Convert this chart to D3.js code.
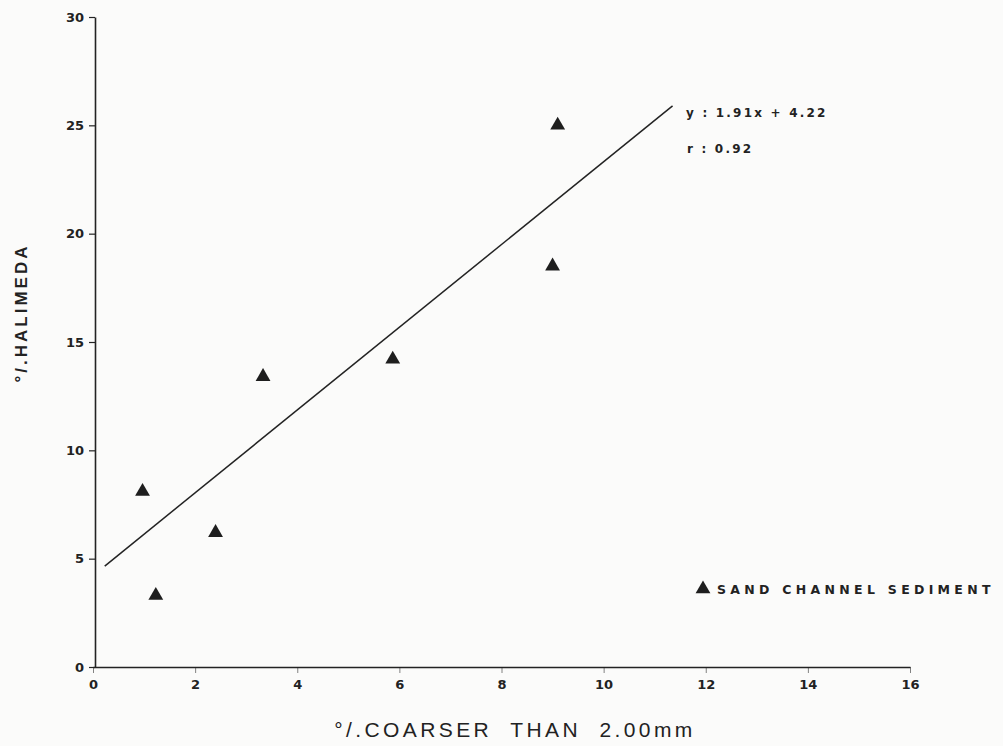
<!DOCTYPE html>
<html>
<head>
<meta charset="utf-8">
<script src="https://cdn.jsdelivr.net/npm/d3@7/dist/d3.min.js"></script>
<style>
  html, body { margin: 0; padding: 0; background: #fbfbfa; }
  svg { display: block; }
  text { fill: #222; }
</style>
</head>
<body>
<svg id="chart" width="1003" height="746"></svg>
<script>
// Sand channel sediment samples: coarse fraction vs. Halimeda content
const coarserPct  = [0.97, 1.23, 2.4, 3.33, 5.87, 9.0, 9.1];
const halimedaPct = [8.1, 3.3, 6.2, 13.4, 14.2, 18.5, 25.0];

const xTicks = [0, 2, 4, 6, 8, 10, 12, 14, 16];
const yTicks = [0, 5, 10, 15, 20, 25, 30];

// Least-squares fit reported on the chart
const slope = 1.91, intercept = 4.22, rValue = 0.92;
const fitRange = [0.23, 11.35];

const svg = d3.select("#chart");
const ink = "#232323";

const x = d3.scaleLinear().domain([0, 16]).range([93, 910]);
const y = d3.scaleLinear().domain([0, 30]).range([667, 17]);

// Axes
const xAxis = d3.axisBottom(x).tickValues(xTicks).tickSize(6).tickSizeOuter(0).tickPadding(7);
const yAxis = d3.axisLeft(y).tickValues(yTicks).tickSize(6).tickSizeOuter(0).tickPadding(5);

const gx = svg.append("g").attr("transform", `translate(0,${y(0)})`).call(xAxis);
const gy = svg.append("g").attr("transform", `translate(${x(0) + 2},0)`).call(yAxis);

[gx, gy].forEach(g => {
  g.select(".domain").attr("stroke", ink).attr("stroke-width", 1.6);
  g.selectAll(".tick line").attr("stroke", ink).attr("stroke-width", 1.2);
  g.selectAll(".tick text")
    .attr("fill", ink)
    .style("font-family", "'DejaVu Sans', sans-serif")
    .style("font-size", "13px")
    .style("font-weight", "600");
});
gx.selectAll(".tick line").attr("stroke-width", 0.8).attr("opacity", 0.7);

// Regression line
svg.append("line")
  .attr("x1", x(fitRange[0])).attr("y1", y(slope * fitRange[0] + intercept))
  .attr("x2", x(fitRange[1])).attr("y2", y(slope * fitRange[1] + intercept))
  .attr("stroke", ink).attr("stroke-width", 1.5);

// Data points
const tri = d3.symbol().type(d3.symbolTriangle).size(95);
svg.append("g").selectAll("path")
  .data(coarserPct.map((v, i) => [v, halimedaPct[i]]))
  .join("path")
  .attr("d", tri)
  .attr("transform", d => `translate(${x(d[0])},${y(d[1])})`)
  .attr("fill", "#1e1e1e");

// Fit equation annotation
const eqFont = "'DejaVu Sans', sans-serif";
svg.append("text")
  .attr("x", 686).attr("y", 117)
  .style("font-family", eqFont).style("font-size", "12px").style("font-weight", "bold")
  .style("letter-spacing", "2.2px")
  .text(`y : ${slope}x + ${intercept}`);
svg.append("text")
  .attr("x", 687).attr("y", 153)
  .style("font-family", eqFont).style("font-size", "12px").style("font-weight", "bold")
  .style("letter-spacing", "2.2px")
  .text(`r : ${rValue}`);

// Legend
svg.append("path")
  .attr("d", tri)
  .attr("transform", "translate(703,589)")
  .attr("fill", "#1e1e1e");
svg.append("text")
  .attr("x", 717).attr("y", 594)
  .style("font-family", eqFont).style("font-size", "12.5px").style("font-weight", "bold")
  .style("letter-spacing", "4.3px")
  .text("SAND CHANNEL SEDIMENT");

// Axis titles
svg.append("text")
  .attr("x", 515).attr("y", 737)
  .attr("text-anchor", "middle")
  .style("font-family", "'Liberation Sans', Arial, sans-serif").style("font-size", "21px")
  .style("letter-spacing", "3.4px")
  .style("white-space", "pre")
  .text("°/.COARSER  THAN  2.00mm");

svg.append("text")
  .attr("transform", "translate(27,313) rotate(-90)")
  .attr("text-anchor", "middle")
  .style("font-family", "'Liberation Sans', Arial, sans-serif").style("font-size", "17px")
  .style("font-weight", "600")
  .style("letter-spacing", "3px")
  .text("°/.HALIMEDA");
</script>
</body>
</html>
